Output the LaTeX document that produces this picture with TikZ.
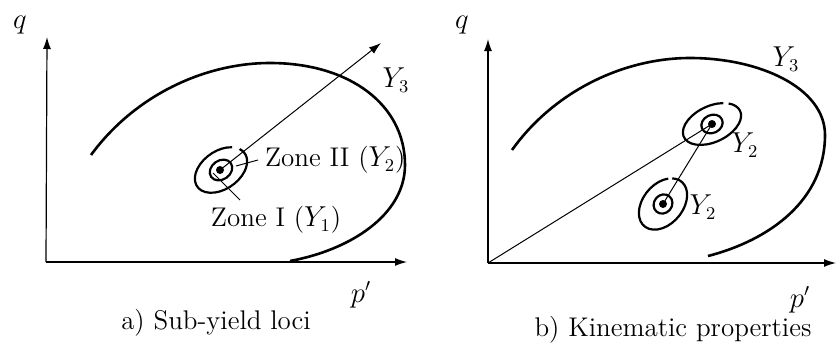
\documentclass[tikz,border=0pt]{standalone}
\usepackage{amsmath}
\usepackage{tikz}
\usetikzlibrary{arrows.meta,positioning,calc}

\begin{document}
\begin{tikzpicture}[
  x=0.5pt, y=0.5pt,
  font=\fontsize{13.5}{16}\selectfont,
  axis/.style={-{Latex[length=6pt,width=4pt]}, line width=0.6pt},
  locus/.style={line width=1.3pt},
  ring/.style={line width=1.1pt},
  thin line/.style={line width=0.5pt},
  dot/.style={circle, fill, inner sep=0pt, minimum size=4pt}
]
\useasboundingbox (0,0) rectangle (837,350);

% a) sub-yield loci
\coordinate (oa) at (46,88);
\coordinate (qa) at (47,313);
\coordinate (pa) at (407,88);
\draw[axis] (oa) -- (qa);
\draw[axis] (oa) -- (pa);
\node (qlabA) at (20,325) {$q$};
\node (plabA) at (361,55) {$p'$};
\node (capA) at (216,27) {a) Sub-yield loci};

\draw[locus] (91,195) .. controls (135,255) and (205,287) .. (270,287)
  .. controls (350,287) and (405,245) .. (405,185)
  .. controls (405,135) and (350,100) .. (290,89);
\node (y3A) at (396,270) {$Y_3$};

\coordinate (ca) at (220,180);
\coordinate (tipA) at (381,307);
\begin{scope}[shift={(221,180)}, rotate=35]
  \draw[ring] (40:29 and 19) arc[start angle=40, end angle=380, x radius=29, y radius=19];
  \draw[ring] (0:12 and 9.5) arc[start angle=0, end angle=360, x radius=12, y radius=9.5];
\end{scope}
\node[dot] (dotA) at (ca) {};
\draw[thin line, -{Latex[length=6pt,width=4pt]}] (ca) -- (tipA);
\node[anchor=west] (zone2) at (258,190) {Zone II ($Y_2$)};
\node (zone1) at (276,130) {Zone I ($Y_1$)};
\draw[thin line] (236,184) -- (zone2.west);
\draw[thin line] (213,177) -- (240,150);

% b) kinematic properties
\coordinate (ob) at (488,87);
\coordinate (qb) at (488,311);
\coordinate (pb) at (836,87);
\draw[axis] (ob) -- (qb);
\draw[axis] (ob) -- (pb);
\node (qlabB) at (462,325) {$q$};
\node (plabB) at (800,50) {$p'$};
\node (capB) at (673,20) {b) Kinematic properties};

\draw[locus] (512,200) .. controls (555,260) and (625,292) .. (690,292)
  .. controls (760,292) and (825,262) .. (825,215)
  .. controls (825,150) and (770,110) .. (708,94);
\node (y3B) at (786,291) {$Y_3$};

\coordinate (cu) at (712,226);
\coordinate (cl) at (663,146);
\begin{scope}[shift={(cu)}, rotate=25]
  \draw[ring] (52:31 and 18) arc[start angle=52, end angle=400, x radius=31, y radius=18];
  \draw[ring] (0:11 and 9) arc[start angle=0, end angle=360, x radius=11, y radius=9];
\end{scope}
\begin{scope}[shift={(cl)}, rotate=50]
  \draw[ring] (38:29 and 20) arc[start angle=38, end angle=388, x radius=29, y radius=20];
  \draw[ring] (0:10 and 9) arc[start angle=0, end angle=360, x radius=10, y radius=9];
\end{scope}
\node[dot] (dotU) at (cu) {};
\node[dot] (dotL) at (cl) {};
\draw[thin line] (ob) -- (cu);
\draw[thin line] (cl) -- (cu);
\node (y2u) at (745,205) {$Y_2$};
\node (y2l) at (703,143) {$Y_2$};
\end{tikzpicture}
\end{document}
